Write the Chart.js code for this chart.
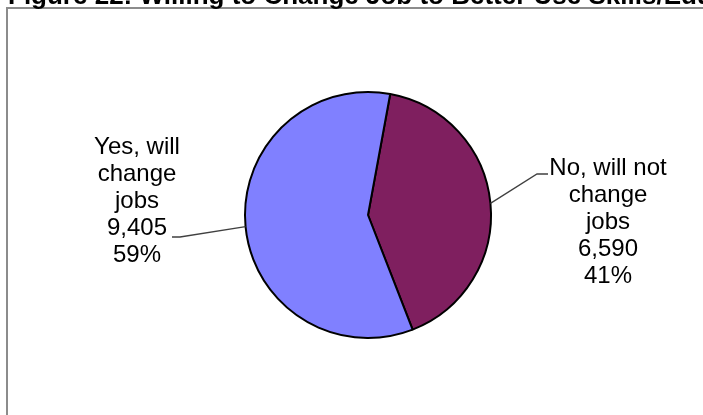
<!DOCTYPE html>
<html>
<head>
<meta charset="utf-8">
<script src="https://cdn.jsdelivr.net/npm/chart.js@4/dist/chart.umd.min.js"></script>
<style>
  html, body { margin: 0; padding: 0; background: #ffffff; }
  #wrap { width: 703px; height: 415px; position: relative; }
</style>
</head>
<body>
<div id="wrap"><canvas id="c" width="703" height="415"></canvas></div>
<script>
// Survey answers: willing to change job to better use skills/education
const categories = ['No, will not change jobs', 'Yes, will change jobs'];
const labelLines = [['No, will not', 'change', 'jobs'], ['Yes, will', 'change', 'jobs']];
const counts = [6590, 9405];
const percents = ['41%', '59%'];
const sliceColors = ['#7f1f5f', '#8080ff'];
const titleText = 'Figure 22: Willing to Change Job to Better Use Skills/Education';

const fmt = n => n.toLocaleString('en-US');

// Frame around the chart plus the heading above it
const framePlugin = {
  id: 'frame',
  beforeDraw(chart) {
    const ctx = chart.ctx;
    ctx.save();
    ctx.fillStyle = '#ffffff';
    ctx.fillRect(0, 0, chart.width, chart.height);
    ctx.strokeStyle = '#8c8c8c';
    ctx.lineWidth = 2;
    ctx.beginPath();
    ctx.moveTo(7, chart.height + 5);
    ctx.lineTo(7, 8);
    ctx.lineTo(chart.width + 5, 8);
    ctx.stroke();
    ctx.fillStyle = '#000000';
    ctx.font = 'bold 26px "Liberation Sans", Arial, sans-serif';
    ctx.textBaseline = 'alphabetic';
    ctx.textAlign = 'left';
    ctx.fillText(titleText, 8, 4);
    ctx.restore();
  }
};

// Category labels with leader lines running from each slice's mid-angle
const labelPlugin = {
  id: 'sliceLabels',
  afterDatasetsDraw(chart) {
    const ctx = chart.ctx;
    const meta = chart.getDatasetMeta(0);
    const lineH = 27;
    ctx.save();
    ctx.font = '24px "Liberation Sans", Arial, sans-serif';
    ctx.fillStyle = '#000000';
    ctx.textAlign = 'center';
    ctx.textBaseline = 'middle';
    meta.data.forEach((arc, i) => {
      const mid = (arc.startAngle + arc.endAngle) / 2;
      const r = arc.outerRadius;
      const ex = arc.x + Math.cos(mid) * r;
      const ey = arc.y + Math.sin(mid) * r;
      const right = Math.cos(mid) > 0;
      const lines = labelLines[i].concat([fmt(counts[i]), percents[i]]);
      let cx, top, kx, ky, hx;
      if (right) {
        cx = arc.x + r + 117;
        top = arc.y - 47;
        kx = arc.x + r + 46;
        ky = arc.y - 41;
        hx = kx + 11;
      } else {
        cx = arc.x - r - 108;
        top = arc.y - 68;
        kx = arc.x - r - 65;
        ky = arc.y + 22;
        hx = kx - 8;
      }
      ctx.strokeStyle = '#404040';
      ctx.lineWidth = 1.3;
      ctx.beginPath();
      ctx.moveTo(ex, ey);
      ctx.lineTo(kx, ky);
      ctx.lineTo(hx, ky);
      ctx.stroke();
      lines.forEach((t, k) => ctx.fillText(t, cx, top + k * lineH));
    });
    ctx.restore();
  }
};

new Chart(document.getElementById('c'), {
  type: 'pie',
  data: {
    labels: categories,
    datasets: [{
      data: counts,
      backgroundColor: sliceColors,
      borderColor: '#000000',
      borderWidth: 2,
      borderAlign: 'center'
    }]
  },
  options: {
    responsive: false,
    animation: false,
    rotation: 10.4,
    radius: 123,
    layout: { padding: { left: 33, top: 15, right: 0, bottom: 0 } },
    plugins: {
      legend: { display: false },
      tooltip: { enabled: false },
      title: { display: false }
    }
  },
  plugins: [framePlugin, labelPlugin]
});
</script>
</body>
</html>
